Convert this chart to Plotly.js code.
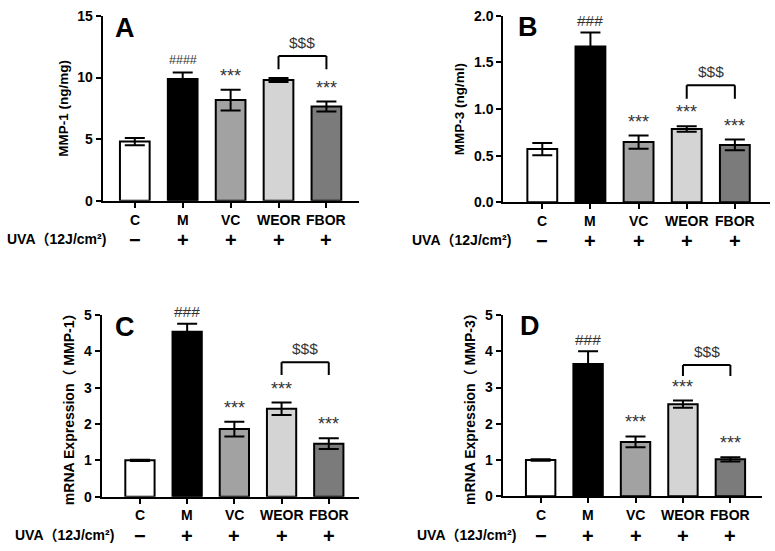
<!DOCTYPE html>
<html><head><meta charset="utf-8">
<script src="https://cdn.plot.ly/plotly-3.0.1.min.js"></script>
<style>html,body{margin:0;padding:0;background:#fff}#chart{width:775px;height:551px}</style>
</head><body><div id="chart"></div>
<script>
// ---- data ----
const groups = ['C', 'M', 'VC', 'WEOR', 'FBOR'];
const uvaSigns = ['\u2212', '+', '+', '+', '+'];
const mmp1Protein   = [4.80, 9.88, 8.17, 9.80, 7.65];
const mmp1ProteinSD = [0.30, 0.54, 0.85, 0.17, 0.40];
const mmp3Protein   = [0.57, 1.67, 0.645, 0.785, 0.615];
const mmp3ProteinSD = [0.065, 0.15, 0.07, 0.03, 0.057];
const mmp1mRNA      = [1.00, 4.54, 1.86, 2.42, 1.46];
const mmp1mRNASD    = [0.02, 0.22, 0.20, 0.17, 0.15];
const mmp3mRNA      = [1.00, 3.65, 1.50, 2.54, 1.02];
const mmp3mRNASD    = [0.02, 0.35, 0.15, 0.10, 0.06];
const sigA   = ['', '####', '***', '', '***'];
const sigBCD = ['', '###', '***', '***', '***'];
const barColors = ['#ffffff', '#000000', '#a2a2a2', '#d4d4d4', '#7b7b7b'];

// ---- layout helpers ----
const W = 775, H = 551;
const px = v => v / W;
const py = v => 1 - v / H;
const FONT = 'Liberation Sans, Arial, Noto Sans CJK SC, sans-serif';

const panels = [
  {letter: 'A', vals: mmp1Protein, sd: mmp1ProteinSD, sig: sigA, title: 'MMP-1 (ng/mg)',
   xd: [102.7, 359], yd: [16, 200.7], xr: [-0.67, 4.68], yr: [0, 15], dtick: 5, fmt: '',
   letterPos: [124.5, 28.5], brTop: 11.75, brLow: 10.67, labY: 220, uvaY: 240, uvaX: 5},
  {letter: 'B', vals: mmp3Protein, sd: mmp3ProteinSD, sig: sigBCD, title: 'MMP-3 (ng/ml)',
   xd: [503.3, 770], yd: [15.7, 202.3], xr: [-0.81, 4.73], yr: [0, 2], dtick: 0.5, fmt: '.1f',
   letterPos: [528, 27.5], brTop: 1.254, brLow: 1.11, labY: 221, uvaY: 241, uvaX: 410},
  {letter: 'C', vals: mmp1mRNA, sd: mmp1mRNASD, sig: sigBCD, title: 'mRNA Expression\uFF08 MMP-1\uFF09',
   xd: [101.7, 359], yd: [315, 496.7], xr: [-0.81, 4.64], yr: [0, 5], dtick: 1, fmt: '',
   letterPos: [125, 326.5], brTop: 3.70, brLow: 3.35, labY: 515, uvaY: 536, uvaX: 13},
  {letter: 'D', vals: mmp3mRNA, sd: mmp3mRNASD, sig: sigBCD, title: 'mRNA Expression\uFF08 MMP-3\uFF09',
   xd: [502.7, 761.7], yd: [315, 496.3], xr: [-0.80, 4.66], yr: [0, 5], dtick: 1, fmt: '',
   letterPos: [529.5, 326], brTop: 3.62, brLow: 3.32, labY: 515, uvaY: 536, uvaX: 415}
];

const data = [];
const layout = {
  width: W, height: H,
  margin: {l: 0, r: 0, t: 0, b: 0},
  paper_bgcolor: '#ffffff', plot_bgcolor: 'rgba(0,0,0,0)',
  showlegend: false, bargap: 0.38,
  font: {family: FONT, color: '#000'},
  annotations: [], shapes: []
};

panels.forEach((p, i) => {
  const n = i === 0 ? '' : String(i + 1);
  const xa = 'x' + n, ya = 'y' + n;
  data.push({
    type: 'bar', x: groups, y: p.vals, xaxis: xa, yaxis: ya,
    marker: {color: barColors, line: {color: '#000', width: 2}},
    error_y: {type: 'data', array: p.sd, visible: true, color: '#000', thickness: 2, width: 10},
    hoverinfo: 'skip'
  });
  layout['xaxis' + n] = {
    domain: [px(p.xd[0]), px(p.xd[1])], anchor: ya, range: p.xr, type: 'category',
    showline: true, linewidth: 2, linecolor: '#000', showgrid: false, zeroline: false,
    ticks: 'outside', ticklen: 5, tickwidth: 2, tickcolor: '#000',
    showticklabels: false, fixedrange: true
  };
  layout['yaxis' + n] = {
    domain: [py(p.yd[1]), py(p.yd[0])], anchor: xa, range: p.yr,
    showline: true, linewidth: 2, linecolor: '#000', showgrid: false, zeroline: false,
    ticks: 'outside', ticklen: 5, tickwidth: 2, tickcolor: '#000',
    dtick: p.dtick, tick0: 0, tickformat: p.fmt,
    tickfont: {family: FONT, size: 14, weight: 'bold', color: '#000'},
    title: {text: p.title, font: {family: FONT, size: i < 2 ? 13.5 : 14, weight: 'bold', color: '#000'}, standoff: 6},
    fixedrange: true
  };
  const A = layout.annotations;
  // panel letter
  A.push({xref: 'paper', yref: 'paper', x: px(p.letterPos[0]), y: py(p.letterPos[1]),
    xanchor: 'center', yanchor: 'middle', showarrow: false, text: p.letter,
    font: {family: FONT, size: 27, weight: 'bold', color: '#000'}});
  // category labels & UVA row
  groups.forEach((g, k) => {
    A.push({xref: xa, yref: 'paper', x: g, y: py(p.labY), xanchor: 'center', yanchor: 'middle',
      showarrow: false, text: g, font: {family: FONT, size: 14, weight: 'bold', color: '#000'}});
    A.push({xref: xa, yref: 'paper', x: g, y: py(p.uvaY), xanchor: 'center', yanchor: 'middle',
      showarrow: false, text: uvaSigns[k], font: {family: FONT, size: 20, weight: 'bold', color: '#000'}});
    const s = p.sig[k];
    if (s) {
      const hash = s.charAt(0) === '#';
      A.push({xref: xa, yref: ya, x: g, y: p.vals[k] + p.sd[k], xanchor: 'center', yanchor: 'middle',
        yshift: hash ? 12 : 14, showarrow: false, text: s,
        font: {family: FONT, size: hash ? (s.length > 3 ? 12.5 : 15.5) : 18, color: '#333'}});
    }
  });
  A.push({xref: 'paper', yref: 'paper', x: px(p.uvaX), y: py(p.uvaY - 1), xanchor: 'left', yanchor: 'middle',
    showarrow: false, text: 'UVA\uFF0812J/cm\u00B2)',
    font: {family: FONT, size: 14, weight: 'bold', color: '#000'}});
  // bracket WEOR vs FBOR
  const S = layout.shapes;
  const ln = {color: '#000', width: 2};
  S.push({type: 'line', xref: xa, yref: ya, x0: 3, x1: 3, y0: p.brLow, y1: p.brTop, line: ln});
  S.push({type: 'line', xref: xa, yref: ya, x0: 3, x1: 4, y0: p.brTop, y1: p.brTop, line: ln});
  S.push({type: 'line', xref: xa, yref: ya, x0: 4, x1: 4, y0: p.brTop, y1: p.brLow, line: ln});
  A.push({xref: xa, yref: ya, x: 3.5, y: p.brTop, xanchor: 'center', yanchor: 'middle', yshift: 13.5,
    showarrow: false, text: '$$$', font: {family: FONT, size: 15.5, color: '#333'}});
});

Plotly.newPlot('chart', data, layout, {displayModeBar: false, staticPlot: true});
</script>
</body></html>
